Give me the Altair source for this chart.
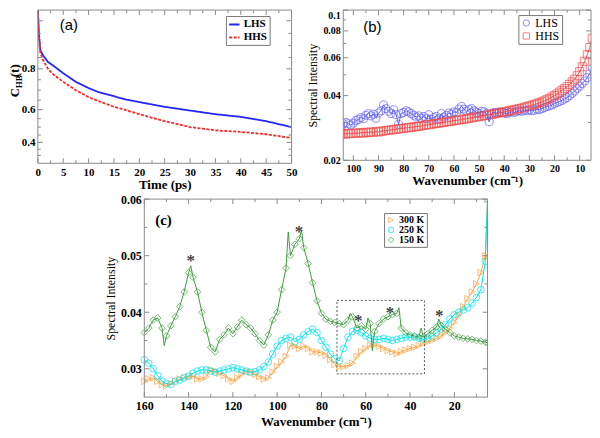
import altair as alt
import pandas as pd

SERIF = "Liberation Serif"
SANS = "Liberation Sans"
FRAME = "#8a8a8a"

# ---------------- panel (a): H-bond correlation ----------------
a_time = [0, 0.2, 0.5, 1, 2, 3, 5, 7.5, 10, 12, 15, 17, 20, 25, 30, 35, 40, 45, 50]
a_lhs = [1.041, 0.95, 0.88, 0.86, 0.83, 0.815, 0.78, 0.74, 0.71, 0.69, 0.67, 0.655,
         0.64, 0.615, 0.595, 0.575, 0.56, 0.535, 0.50]
a_hhs = [1.041, 0.94, 0.87, 0.84, 0.80, 0.775, 0.74, 0.70, 0.665, 0.645, 0.615, 0.60,
         0.575, 0.535, 0.50, 0.48, 0.47, 0.455, 0.43]
a_series = ["LHS", "HHS"]
a_xticks = [0, 5, 10, 15, 20, 25, 30, 35, 40, 45, 50]
a_xminor = [2.5, 7.5, 12.5, 17.5, 22.5, 27.5, 32.5, 37.5, 42.5, 47.5]
a_ylabels = [0.4, 0.6, 0.8]
a_yticks = [0.4, 0.6, 0.8, 1.0]
a_yminor = [0.3, 0.35, 0.45, 0.5, 0.55, 0.65, 0.7, 0.75, 0.85, 0.9, 0.95]

# ---------------- panel (b): spectra LHS / HHS ----------------
b_wn = list(range(105, 4, -1))
b_lhs = [0.0284, 0.0296, 0.0300, 0.0296, 0.0292, 0.0298, 0.0306, 0.0310, 0.0316, 0.0312,
         0.0324, 0.0330, 0.0322, 0.0328, 0.0314, 0.0332, 0.0340, 0.0362, 0.0348, 0.0338,
         0.0330, 0.0344, 0.0326, 0.0294, 0.0330, 0.0334, 0.0340, 0.0336, 0.0330, 0.0324,
         0.0318, 0.0322, 0.0314, 0.0320, 0.0312, 0.0326, 0.0310, 0.0316, 0.0320, 0.0312,
         0.0330, 0.0318, 0.0324, 0.0332, 0.0328, 0.0336, 0.0334, 0.0346, 0.0356, 0.0346,
         0.0338, 0.0344, 0.0348, 0.0340, 0.0334, 0.0330, 0.0338, 0.0336, 0.0330, 0.0302,
         0.0330, 0.0334, 0.0332, 0.0336, 0.0334, 0.0332, 0.0330, 0.0334, 0.0336, 0.0334,
         0.0338, 0.0340, 0.0338, 0.0342, 0.0340, 0.0344, 0.0340, 0.0342, 0.0346, 0.0344,
         0.0348, 0.0352, 0.0356, 0.0358, 0.0362, 0.0368, 0.0372, 0.0376, 0.0380, 0.0386,
         0.0392, 0.0400, 0.0410, 0.0420, 0.0432, 0.0443, 0.0455, 0.0468, 0.0485, 0.0505,
         0.0535]
b_hhs = [0.0264, 0.0266, 0.0265, 0.0267, 0.0266, 0.0267, 0.0268, 0.0267, 0.0269, 0.0268,
         0.0270, 0.0269, 0.0271, 0.0270, 0.0272, 0.0271, 0.0273, 0.0274, 0.0275, 0.0276,
         0.0277, 0.0278, 0.0279, 0.0280, 0.0281, 0.0282, 0.0283, 0.0284, 0.0285, 0.0286,
         0.0287, 0.0288, 0.0289, 0.0291, 0.0292, 0.0293, 0.0294, 0.0296, 0.0297, 0.0298,
         0.0299, 0.0300, 0.0302, 0.0303, 0.0304, 0.0306, 0.0307, 0.0308, 0.0310, 0.0311,
         0.0312, 0.0314, 0.0315, 0.0317, 0.0318, 0.0320, 0.0321, 0.0323, 0.0324, 0.0326,
         0.0327, 0.0329, 0.0331, 0.0333, 0.0334, 0.0336, 0.0338, 0.0340, 0.0342, 0.0344,
         0.0346, 0.0348, 0.0350, 0.0353, 0.0355, 0.0358, 0.0361, 0.0364, 0.0367, 0.0370,
         0.0374, 0.0378, 0.0383, 0.0388, 0.0394, 0.0400, 0.0407, 0.0415, 0.0423, 0.0431,
         0.0440, 0.0451, 0.0463, 0.0477, 0.0495, 0.0518, 0.0545, 0.0578, 0.0620, 0.0670,
         0.0740]
b_series = ["LHS", "HHS"]
b_xticks = [100, 90, 80, 70, 60, 50, 40, 30, 20, 10]
b_xminor = [95, 85, 75, 65, 55, 45, 35, 25, 15]
b_yticks = [0.02, 0.04, 0.06, 0.08, 0.1]
b_yminor = [0.03, 0.05, 0.07, 0.09]

# ---------------- panel (c): spectra at three temperatures ----------------
c_wn = list(range(160, 5, -2)) + [5]
c_300 = [0.0278, 0.0282, 0.0284, 0.0278, 0.0272, 0.0270, 0.0274, 0.0278, 0.0282, 0.0284,
         0.0286, 0.0287, 0.0282, 0.0282, 0.0286, 0.0298, 0.0296, 0.0292, 0.0288, 0.0282,
         0.0278, 0.0284, 0.0290, 0.0296, 0.0294, 0.0290, 0.0286, 0.0282, 0.0284, 0.0294,
         0.0304, 0.0312, 0.0322, 0.0342, 0.0340, 0.0336, 0.0340, 0.0336, 0.0330, 0.0330,
         0.0328, 0.0324, 0.0316, 0.0308, 0.0304, 0.0304, 0.0306, 0.0310, 0.0322, 0.0330,
         0.0336, 0.0342, 0.0342, 0.0340, 0.0336, 0.0332, 0.0330, 0.0327, 0.0330, 0.0333,
         0.0336, 0.0338, 0.0341, 0.0345, 0.0348, 0.0350, 0.0354, 0.0358, 0.0364, 0.0372,
         0.0382, 0.0394, 0.0410, 0.0424, 0.0436, 0.0450, 0.0470, 0.0500, 0.0600]
c_250 = [0.0316, 0.0310, 0.0300, 0.0288, 0.0278, 0.0274, 0.0272, 0.0278, 0.0280, 0.0284,
         0.0287, 0.0292, 0.0296, 0.0298, 0.0298, 0.0296, 0.0294, 0.0296, 0.0298, 0.0300,
         0.0302, 0.0300, 0.0298, 0.0296, 0.0294, 0.0295, 0.0298, 0.0304, 0.0312, 0.0326,
         0.0340, 0.0350, 0.0354, 0.0356, 0.0348, 0.0352, 0.0360, 0.0366, 0.0370, 0.0364,
         0.0350, 0.0338, 0.0326, 0.0318, 0.0314, 0.0336, 0.0356, 0.0366, 0.0368, 0.0364,
         0.0358, 0.0354, 0.0352, 0.0352, 0.0354, 0.0352, 0.0350, 0.0352, 0.0354, 0.0356,
         0.0356, 0.0356, 0.0354, 0.0352, 0.0354, 0.0358, 0.0364, 0.0370, 0.0378, 0.0388,
         0.0396, 0.0400, 0.0404, 0.0408, 0.0416, 0.0426, 0.0440, 0.0490, 0.0600]
c_150 = [0.0364, 0.0372, 0.0386, 0.0390, 0.0372, 0.0358, 0.0376, 0.0392, 0.0410, 0.0436,
         0.0470, 0.0462, 0.0436, 0.0400, 0.0368, 0.0338, 0.0330, 0.0352, 0.0360, 0.0372,
         0.0362, 0.0374, 0.0386, 0.0378, 0.0372, 0.0362, 0.0350, 0.0342, 0.0360, 0.0386,
         0.0400, 0.0440, 0.0478, 0.0500, 0.0520, 0.0530, 0.0514, 0.0486, 0.0452, 0.0420,
         0.0398, 0.0388, 0.0384, 0.0382, 0.0380, 0.0378, 0.0386, 0.0392, 0.0372, 0.0376,
         0.0370, 0.0380, 0.0366, 0.0380, 0.0388, 0.0392, 0.0396, 0.0398, 0.0372, 0.0364,
         0.0360, 0.0358, 0.0356, 0.0356, 0.0362, 0.0368, 0.0374, 0.0377, 0.0370, 0.0364,
         0.0358, 0.0356, 0.0354, 0.0353, 0.0352, 0.0350, 0.0349, 0.0347, 0.0346]
# thin spikes of the 150 K trace between its markers
spike_wn = [151, 139, 95, 89, 67, 59, 57, 45, 35, 27]
spike_v = [0.0341, 0.0482, 0.0542, 0.0545, 0.0398, 0.0390, 0.0332, 0.0408, 0.0372, 0.0388]
c_series = ["300 K", "250 K", "150 K"]
c_xticks = [160, 140, 120, 100, 80, 60, 40, 20]
c_xminor = [150, 130, 110, 90, 70, 50, 30, 10]
c_yticks = [0.03, 0.04, 0.05, 0.06]
c_yminor = [0.035, 0.045, 0.055]
star_wn = [139.0, 90.2, 63.4, 49.1, 26.8]
star_v = [0.0498, 0.0549, 0.0391, 0.0406, 0.0400]
box_wn = [73.0, 33.5]
box_v = [0.0421, 0.0291]

# ---------------- layout sizes ----------------
AW, AH = 255, 154
BW, BH = 249, 151
C_OFF, CW, CH = 107, 345, 199

A_COLORS = ["#2424ff", "#ff2626"]
B_COLORS = ["#5e5ef2", "#f24a4a"]
C_COLORS = ["#f9a443", "#00e3ec", "#3f9c3f"]


def one():
    return pd.DataFrame({"k": [0]})


def label(txt, x, y, size, font=SERIF, weight="bold", angle=0, align="center", color="black"):
    return alt.Chart(one()).mark_text(
        text=txt, font=font, fontSize=size, fontWeight=weight, angle=angle,
        align=align, baseline="middle", color=color
    ).encode(x=alt.value(x), y=alt.value(y))


def frame(x0, x1, h):
    return alt.Chart(one()).mark_rect(filled=False, stroke=FRAME, strokeWidth=1).encode(
        x=alt.value(x0), x2=alt.value(x1), y=alt.value(0), y2=alt.value(h))


def xtick_layers(vals, scale, axis, h, length):
    base = alt.Chart(pd.DataFrame({"tv": vals})).mark_rule(color=FRAME, strokeWidth=1)
    xe = alt.X("tv:Q", scale=scale, axis=axis)
    return [base.encode(x=xe, y=alt.value(h - length), y2=alt.value(h)),
            base.encode(x=xe, y=alt.value(0), y2=alt.value(length))]


def ytick_layers(vals, scale, axis, x0, x1, length):
    base = alt.Chart(pd.DataFrame({"tv": vals})).mark_rule(color=FRAME, strokeWidth=1)
    ye = alt.Y("tv:Q", scale=scale, axis=axis)
    return [base.encode(y=ye, x=alt.value(x0), x2=alt.value(x0 + length)),
            base.encode(y=ye, x=alt.value(x1 - length), x2=alt.value(x1))]


def line_of(df, xenc, yenc, color, width):
    return alt.Chart(df).mark_line(color=color, strokeWidth=width, clip=True).encode(x=xenc, y=yenc)


# ---------------- panel (a) ----------------
a_x = alt.Scale(domain=[0, 50], nice=False, zero=False)
a_y = alt.Scale(type="pow", exponent=1.65, domain=[0.227, 1.041], nice=False, zero=False)
a_xaxis = alt.Axis(values=a_xticks, title="Time (ps)", format="d", labelFlush=False,
                   labelOverlap=False, labelFontSize=11, titleFontSize=13, titlePadding=1)
a_yaxis = alt.Axis(values=a_ylabels, format=".1f", title=None, labelFontSize=11,
                   labelOverlap=False)
a_df = pd.DataFrame({
    "t": a_time * 2,
    "v": a_lhs + a_hhs,
    "s": [a_series[0]] * len(a_time) + [a_series[1]] * len(a_time),
})
leg_a = dict(title=None, orient="none", legendX=189, legendY=6, strokeColor="#777777",
             fillColor="white", padding=2, labelFont=SERIF, labelFontWeight="bold",
             labelFontSize=11, symbolSize=110, symbolStrokeWidth=2, rowPadding=1,
             labelOffset=3)
a_lines = alt.Chart(a_df).mark_line(strokeWidth=1.8, clip=True).encode(
    x=alt.X("t:Q", scale=a_x, axis=a_xaxis),
    y=alt.Y("v:Q", scale=a_y, axis=a_yaxis),
    color=alt.Color("s:N", scale=alt.Scale(domain=a_series, range=A_COLORS),
                    legend=alt.Legend(**leg_a)),
    strokeDash=alt.StrokeDash("s:N", scale=alt.Scale(domain=a_series, range=[[1, 0], [3, 1.5]]),
                              legend=alt.Legend(**leg_a)),
)
panel_a = alt.layer(
    a_lines,
    frame(0, AW, AH),
    *xtick_layers(a_xticks, a_x, a_xaxis, AH, 5),
    *xtick_layers(a_xminor, a_x, a_xaxis, AH, 3),
    *ytick_layers(a_yticks, a_y, a_yaxis, 0, AW, 5),
    *ytick_layers(a_yminor, a_y, a_yaxis, 0, AW, 3),
    label("(a)", 22, 15, 15, font=SANS, weight="normal", align="left"),
    label("C", -23, 83, 13, angle=270),
    label("HB", -18.5, 72, 9, angle=270),
    label("(t)", -23, 61, 13, angle=270),
).properties(width=AW, height=AH)

# ---------------- panel (b) ----------------
b_x = alt.Scale(domain=[104, 5.5], nice=False, zero=False)
b_y = alt.Scale(type="log", domain=[0.02, 0.1], nice=False)
b_xaxis = alt.Axis(values=b_xticks, format="d", title="Wavenumber (cm⁻¹)", labelFlush=False,
                   labelOverlap=False, labelFontSize=10, titleFontSize=13, titlePadding=1)
b_yaxis = alt.Axis(
    values=b_yticks, format="~g", title="Spectral Intensity", titleFontWeight="normal",
    titleFontSize=12, labelFontSize=10, labelOverlap=False,
    labelBaseline={"condition": {"test": "datum.value > 0.095", "value": "top"}, "value": "middle"})
b_df = pd.DataFrame({
    "w": b_wn * 2,
    "v": b_lhs + b_hhs,
    "s": [b_series[0]] * len(b_wn) + [b_series[1]] * len(b_wn),
})
b_xenc = alt.X("w:Q", scale=b_x, axis=b_xaxis)
b_yenc = alt.Y("v:Q", scale=b_y, axis=b_yaxis)
leg_b = dict(title=None, orient="none", legendX=176, legendY=5, strokeColor="#777777",
             fillColor="white", padding=2, labelFont=SERIF, labelFontWeight="normal",
             labelFontSize=12, symbolSize=40, symbolStrokeWidth=1, rowPadding=1, labelOffset=3)
b_pts = alt.Chart(b_df).mark_point(filled=False, size=65, strokeWidth=1, clip=True).encode(
    x=b_xenc, y=b_yenc,
    color=alt.Color("s:N", scale=alt.Scale(domain=b_series, range=B_COLORS), legend=alt.Legend(**leg_b)),
    shape=alt.Shape("s:N", scale=alt.Scale(domain=b_series, range=["circle", "square"]),
                    legend=alt.Legend(**leg_b)),
)
panel_b = alt.layer(
    b_pts,
    line_of(b_df[b_df["s"] == b_series[0]], b_xenc, b_yenc, B_COLORS[0], 1),
    line_of(b_df[b_df["s"] == b_series[1]], b_xenc, b_yenc, B_COLORS[1], 1),
    frame(0, BW, BH),
    *xtick_layers(b_xticks, b_x, b_xaxis, BH, 5),
    *xtick_layers(b_xminor, b_x, b_xaxis, BH, 3),
    *ytick_layers(b_yticks, b_y, b_yaxis, 0, BW, 5),
    *ytick_layers(b_yminor, b_y, b_yaxis, 0, BW, 3),
    label("(b)", 20, 17, 15, font=SANS, weight="normal", align="left"),
).properties(width=BW, height=BH)

# ---------------- panel (c) ----------------
c_x = alt.Scale(domain=[160, 5], range=[C_OFF, C_OFF + CW], nice=False, zero=False)
c_y = alt.Scale(domain=[0.025, 0.06], nice=False, zero=False)
c_xaxis = alt.Axis(values=c_xticks, format="d", title="Wavenumber (cm⁻¹)", labelFlush=False,
                   labelOverlap=False, labelFontSize=12, titleFontSize=13,
                   titleX=C_OFF + CW / 2, titleY=25, titleBaseline="middle", titleAlign="center")
c_yaxis = alt.Axis(values=c_yticks, format=".2f", title="Spectral Intensity",
                   titleFontWeight="normal", titleFontSize=12, labelFontSize=12,
                   labelOverlap=False, offset=-C_OFF)
n_c = len(c_wn)
c_df = pd.DataFrame({
    "w": c_wn * 3,
    "v": c_300 + c_250 + c_150,
    "s": [c_series[0]] * n_c + [c_series[1]] * n_c + [c_series[2]] * n_c,
})
green_line_df = pd.concat([
    pd.DataFrame({"w": c_wn, "v": c_150}),
    pd.DataFrame({"w": spike_wn, "v": spike_v}),
]).sort_values("w", ascending=False)
c_xenc = alt.X("w:Q", scale=c_x, axis=c_xaxis)
c_yenc = alt.Y("v:Q", scale=c_y, axis=c_yaxis)
leg_c = dict(title=None, orient="none", legendX=C_OFF + 241, legendY=14, strokeColor="#777777",
             fillColor="white", padding=2, labelFont=SERIF, labelFontWeight="bold",
             labelFontSize=10, symbolSize=32, symbolStrokeWidth=1, rowPadding=0, labelOffset=3)
c_pts = alt.Chart(c_df).mark_point(filled=False, size=45, strokeWidth=1, clip=True).encode(
    x=c_xenc, y=c_yenc,
    color=alt.Color("s:N", scale=alt.Scale(domain=c_series, range=C_COLORS), legend=alt.Legend(**leg_c)),
    shape=alt.Shape("s:N", scale=alt.Scale(domain=c_series, range=["triangle-right", "circle", "diamond"]),
                    legend=alt.Legend(**leg_c)),
)
star_df = pd.DataFrame({"w": star_wn, "v": star_v})
c_stars = alt.Chart(star_df).mark_text(text="*", font=SERIF, fontSize=17, fontWeight="bold",
                                       color="#444444", dy=4).encode(
    x=alt.X("w:Q", scale=c_x, axis=c_xaxis), y=alt.Y("v:Q", scale=c_y, axis=c_yaxis))
box_df = pd.DataFrame({"w1": [box_wn[0]], "w2": [box_wn[1]], "v1": [box_v[0]], "v2": [box_v[1]]})
c_box = alt.Chart(box_df).mark_rect(filled=False, stroke="#555555", strokeWidth=1,
                                    strokeDash=[2, 2]).encode(
    x=alt.X("w1:Q", scale=c_x, axis=c_xaxis), x2="w2:Q",
    y=alt.Y("v1:Q", scale=c_y, axis=c_yaxis), y2="v2:Q")
panel_c = alt.layer(
    c_pts,
    line_of(c_df[c_df["s"] == c_series[0]], c_xenc, c_yenc, C_COLORS[0], 1),
    line_of(c_df[c_df["s"] == c_series[1]], c_xenc, c_yenc, C_COLORS[1], 1),
    line_of(green_line_df, c_xenc, c_yenc, C_COLORS[2], 1),
    frame(C_OFF, C_OFF + CW, CH),
    *xtick_layers(c_xticks, c_x, c_xaxis, CH, 5),
    *xtick_layers(c_xminor, c_x, c_xaxis, CH, 3),
    *ytick_layers(c_yticks, c_y, c_yaxis, C_OFF, C_OFF + CW, 5),
    *ytick_layers(c_yminor, c_y, c_yaxis, C_OFF, C_OFF + CW, 3),
    c_box, c_stars,
    label("(c)", C_OFF + 11, 21, 15, align="left"),
).properties(width=C_OFF + CW, height=CH)

indep = dict(color="independent", shape="independent", strokeDash="independent")
top_row = alt.hconcat(panel_a, panel_b, spacing=9).resolve_scale(**indep)
chart = alt.vconcat(top_row, panel_c, spacing=0).resolve_scale(**indep).properties(
    padding={"left": 0, "top": 0, "right": 0, "bottom": 0}, background="white"
).configure_view(
    stroke="transparent"
).configure_axis(
    domain=False, ticks=False, grid=False, tickSize=0,
    labelFont=SERIF, labelFontWeight="bold", labelColor="black",
    titleFont=SERIF, titleFontWeight="bold", titleColor="black",
    labelPadding=3, titlePadding=3,
)

chart.save("out.html", embed_options={"renderer": "svg", "actions": False})
